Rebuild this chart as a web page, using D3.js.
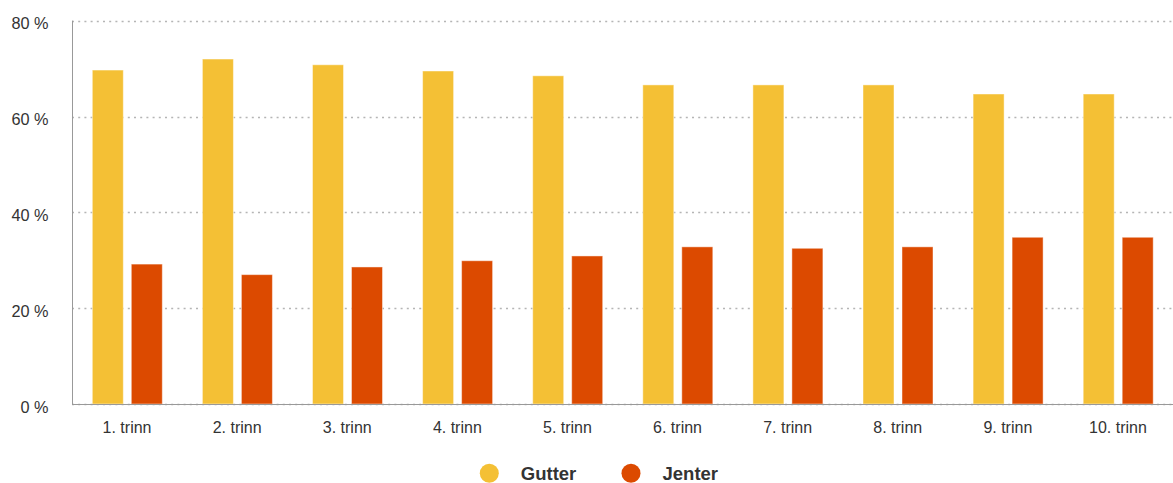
<!DOCTYPE html>
<html>
<head>
<meta charset="utf-8">
<script src="https://cdn.jsdelivr.net/npm/d3@7"></script>
<style>
  html, body { margin: 0; padding: 0; background: #fff; }
  svg { display: block; font-family: "Liberation Sans", Arial, sans-serif; }
</style>
</head>
<body>
<svg id="chart" width="1173" height="483"></svg>
<script>
const categories = ["1. trinn", "2. trinn", "3. trinn", "4. trinn", "5. trinn", "6. trinn", "7. trinn", "8. trinn", "9. trinn", "10. trinn"];
const seriesNames = ["Gutter", "Jenter"];
const gutter = [69.7, 72.0, 70.8, 69.5, 68.5, 66.6, 66.6, 66.6, 64.7, 64.7];
const jenter = [29.2, 27.0, 28.6, 29.9, 30.9, 32.8, 32.5, 32.8, 34.8, 34.8];
const yTicks = [0, 20, 40, 60, 80];
const colors = ["#f4c035", "#dc4a00"];

(function () {
const svg = d3.select("#chart");
const plotL = 72, plotR = 1173, plotT = 20.7, plotB = 404;

const x0 = d3.scaleBand().domain(categories).range([plotL, plotR]).padding(0);
const x1 = d3.scaleBand().domain(seriesNames).range([20.3, 90.3]).paddingInner(0.205);
const y = d3.scaleLinear().domain([0, 80]).range([plotB, plotT]);

// gridlines
svg.append("g").selectAll("line").data(yTicks).join("line")
  .attr("x1", plotL).attr("x2", plotR)
  .attr("y1", d => Math.round(y(d)) + 0.5).attr("y2", d => Math.round(y(d)) + 0.5)
  .attr("stroke", "#b5b5b5").attr("stroke-width", 1.3)
  .attr("stroke-dasharray", "2,4.2");

// bars
const data = categories.map((c, i) => ({ c, vals: [gutter[i], jenter[i]] }));
const groups = svg.append("g").selectAll("g").data(data).join("g")
  .attr("transform", d => `translate(${x0(d.c)},0)`);
groups.selectAll("rect").data(d => d.vals.map((v, j) => ({ s: seriesNames[j], v, j })))
  .join("rect")
  .attr("x", d => x1(d.s))
  .attr("width", x1.bandwidth())
  .attr("y", d => y(d.v))
  .attr("height", d => y(0) - y(d.v))
  .attr("fill", d => colors[d.j])
  .attr("stroke", "rgba(255,255,255,0.45)")
  .attr("stroke-width", 1);

// axes lines
svg.append("line").attr("x1", plotL + 0.5).attr("x2", plotL + 0.5).attr("y1", plotT).attr("y2", plotB)
  .attr("stroke", "#999").attr("stroke-width", 1);
svg.append("line").attr("x1", plotL).attr("x2", plotR).attr("y1", plotB + 0.5).attr("y2", plotB + 0.5)
  .attr("stroke", "#999").attr("stroke-width", 1);

// y labels
svg.append("g").selectAll("text").data(yTicks).join("text")
  .attr("x", 48.5).attr("y", d => y(d) + 8.5)
  .attr("text-anchor", "end")
  .attr("font-size", 16.3).attr("fill", "#333")
  .text(d => d + " %");

// x labels
svg.append("g").selectAll("text").data(categories).join("text")
  .attr("x", d => x0(d) + x0.bandwidth() / 2)
  .attr("y", 432.5)
  .attr("text-anchor", "middle")
  .attr("font-size", 16).attr("fill", "#333")
  .text(d => d);

// legend
const legendX = [489.3, 631];
const leg = svg.append("g").selectAll("g").data(seriesNames).join("g")
  .attr("transform", (d, i) => `translate(${legendX[i]},473.3)`);
leg.append("circle").attr("r", 9.5).attr("fill", (d, i) => colors[i]);
leg.append("text").attr("x", 31.5).attr("y", 6.8)
  .attr("font-size", 18.5).attr("font-weight", "bold").attr("fill", "#333")
  .text(d => d);
})();
</script>
</body>
</html>
